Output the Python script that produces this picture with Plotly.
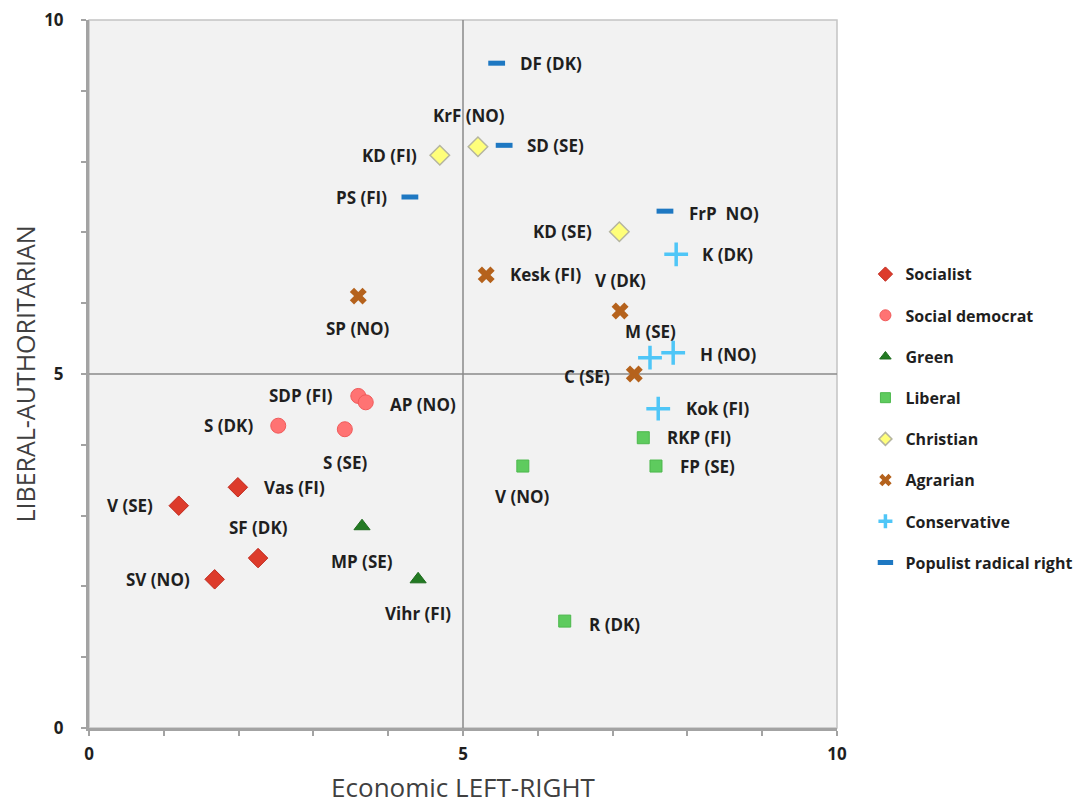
import plotly.graph_objects as go

# ---- data ----
socialist_names = ["Vas (FI)", "V (SE)", "SF (DK)", "SV (NO)"]
socialist_x = [1.99, 1.20, 2.26, 1.68]
socialist_y = [3.40, 3.14, 2.40, 2.10]

socdem_names = ["SDP (FI)", "AP (NO)", "S (DK)", "S (SE)"]
socdem_x = [3.60, 3.70, 2.53, 3.42]
socdem_y = [4.69, 4.60, 4.27, 4.22]

green_names = ["MP (SE)", "Vihr (FI)"]
green_x = [3.65, 4.40]
green_y = [2.85, 2.10]

liberal_names = ["V (NO)", "RKP (FI)", "FP (SE)", "R (DK)"]
liberal_x = [5.80, 7.41, 7.58, 6.36]
liberal_y = [3.70, 4.10, 3.70, 1.51]

christian_names = ["KD (FI)", "KrF (NO)", "KD (SE)"]
christian_x = [4.69, 5.20, 7.09]
christian_y = [8.09, 8.21, 7.01]

agrarian_names = ["Kesk (FI)", "SP (NO)", "V (DK)", "C (SE)"]
agrarian_x = [5.31, 3.60, 7.10, 7.29]
agrarian_y = [6.40, 6.10, 5.89, 5.00]

conservative_names = ["K (DK)", "M (SE)", "H (NO)", "Kok (FI)"]
conservative_x = [7.85, 7.50, 7.81, 7.61]
conservative_y = [6.69, 5.23, 5.30, 4.51]

populist_names = ["DF (DK)", "SD (SE)", "PS (FI)", "FrP  NO)"]
populist_x = [5.45, 5.55, 4.29, 7.70]
populist_y = [9.39, 8.23, 7.50, 7.30]

axis_ticks = [0, 5, 10]

# ---- label placement (style, not data) ----
label_pos = {
    "DF (DK)": ("left", 21, 0), "SD (SE)": ("left", 21, 0), "PS (FI)": ("right", -21, 0),
    "FrP  NO)": ("left", 22, -2),
    "KD (FI)": ("right", -21, 0), "KrF (NO)": ("center", -9, 31), "KD (SE)": ("right", -25, 0),
    "K (DK)": ("left", 24, 0), "M (SE)": ("center", 0, 26), "H (NO)": ("left", 25, -2),
    "Kok (FI)": ("left", 26, 0),
    "Kesk (FI)": ("left", 22, 0), "SP (NO)": ("center", 0, -32), "V (DK)": ("center", 0, 30),
    "C (SE)": ("right", -22, -2),
    "SDP (FI)": ("right", -23, 0), "AP (NO)": ("left", 22, -2), "S (DK)": ("right", -23, 0),
    "S (SE)": ("center", 0, -33),
    "V (NO)": ("center", 0, -30), "RKP (FI)": ("left", 22, 0), "FP (SE)": ("left", 22, 0),
    "R (DK)": ("left", 22, -3),
    "Vas (FI)": ("left", 24, 0), "V (SE)": ("right", -24, 0), "SF (DK)": ("center", 0, 31),
    "SV (NO)": ("right", -23, 0),
    "MP (SE)": ("center", 0, -35), "Vihr (FI)": ("center", 0, -34),
}

series = [
    ("Socialist", socialist_names, socialist_x, socialist_y,
     dict(symbol="diamond", size=15, color="#dd3b2b", line=dict(color="#c0281c", width=1)), 11),
    ("Social democrat", socdem_names, socdem_x, socdem_y,
     dict(symbol="circle", size=15, color="#ff7373", line=dict(color="#f05a5a", width=1)), 11),
    ("Green", green_names, green_x, green_y,
     dict(symbol="triangle-up", size=14, color="#237a23", line=dict(color="#1d6b1d", width=1)), 10),
    ("Liberal", liberal_names, liberal_x, liberal_y,
     dict(symbol="square", size=12, color="#5ecb5e", line=dict(color="#4cb84c", width=1)), 10),
    ("Christian", christian_names, christian_x, christian_y,
     dict(symbol="diamond", size=15, color="#ffff7a", line=dict(color="#b5b5a0", width=1.5)), 10),
    ("Agrarian", agrarian_names, agrarian_x, agrarian_y,
     dict(symbol="x", size=15, color="#b5621c", line=dict(color="#b5621c", width=0)), 11),
    ("Conservative", conservative_names, conservative_x, conservative_y,
     dict(symbol="cross-thin", size=17, color="#4fc6f7", line=dict(color="#4fc6f7", width=3.5)), 10),
    ("Populist radical right", populist_names, populist_x, populist_y,
     dict(symbol="line-ew", size=12, color="#1e78c2", line=dict(color="#1e78c2", width=5)), 11),
]

fig = go.Figure()
annotations = []
for i, (name, labels, xs, ys, mk, leg_size) in enumerate(series):
    fig.add_trace(go.Scatter(
        x=xs, y=ys, mode="markers", name=name, marker=mk, showlegend=False,
        hoverinfo="text", text=labels,
    ))
    # legend entry with the smaller key symbol used in the reference
    leg_mk = dict(mk)
    leg_mk["size"] = leg_size
    fig.add_trace(go.Scatter(
        x=[None], y=[None], mode="markers", name=name, marker=leg_mk,
        legendgroup=f"g{i}", showlegend=True, hoverinfo="skip",
    ))
    for lab, x, y in zip(labels, xs, ys):
        anc, dx, dy = label_pos[lab]
        annotations.append(dict(
            x=x, y=y, xref="x", yref="y", text=lab, showarrow=False,
            xanchor=anc, yanchor="middle", xshift=dx, yshift=dy,
            font=dict(family="Open Sans", size=17, color="#1f1f1f", weight="bold"),
        ))

# reference lines at the midpoints and plot border
shapes = [
    dict(type="line", xref="x", yref="y", x0=5, x1=5, y0=0, y1=10,
         line=dict(color="#8a8a8a", width=1.5), layer="below"),
    dict(type="line", xref="x", yref="y", x0=0, x1=10, y0=5, y1=5,
         line=dict(color="#8a8a8a", width=1.5), layer="below"),
    dict(type="rect", xref="paper", yref="paper", x0=0, x1=1, y0=0, y1=1,
         line=dict(color="#c4c4c4", width=1.5), layer="below"),
]

axis_common = dict(
    range=[0, 10], tickvals=axis_ticks, showgrid=False, zeroline=False,
    showline=True, linecolor="#a3a3a3", linewidth=3, mirror=False,
    ticks="", automargin=False, ticklabeloverflow="allow",
    tickfont=dict(family="Open Sans", size=17, color="#1f1f1f", weight="bold"),
    minor=dict(ticks="outside", dtick=1, ticklen=5, tickcolor="#a3a3a3", tickwidth=1.5),
    fixedrange=True,
)

fig.update_layout(
    width=1089, height=807,
    margin=dict(l=81, r=260, t=12, b=87, autoexpand=False),
    paper_bgcolor="white", plot_bgcolor="#f2f2f2",
    xaxis=dict(**axis_common, ticklabelstandoff=9,
               title=dict(text="Economic LEFT-RIGHT", standoff=15,
                          font=dict(family="Open Sans", size=26, color="#404040"))),
    yaxis=dict(**axis_common, ticklabelstandoff=19,
               title=dict(text="LIBERAL-AUTHORITARIAN", standoff=20,
                          font=dict(family="Open Sans", size=25, color="#404040"))),
    showlegend=True,
    legend=dict(x=1.038, y=0.665, xanchor="left", yanchor="top",
                font=dict(family="Open Sans", size=16, color="#1f1f1f", weight="bold"),
                traceorder="grouped", tracegroupgap=17.4, itemwidth=30,
                bgcolor="rgba(0,0,0,0)"),
    annotations=annotations,
    shapes=shapes,
)

fig.write_html("out.html")
